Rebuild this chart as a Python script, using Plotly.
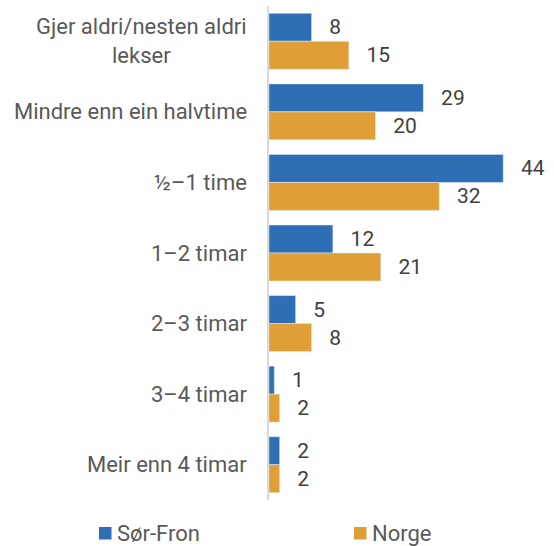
import plotly.graph_objects as go

categories = [
    "Gjer aldri/nesten aldri<br>lekser",
    "Mindre enn ein halvtime",
    "½–1 time",
    "1–2 timar",
    "2–3 timar",
    "3–4 timar",
    "Meir enn 4 timar",
]
sor_fron = [8, 29, 44, 12, 5, 1, 2]
norge = [15, 20, 32, 21, 8, 2, 2]
series_names = ["Sør-Fron", "Norge"]

BLUE = "#2E6EB5"
ORANGE = "#E09E37"
FONT = "Roboto"
PAD = "\u00a0\u00a0\u2009"

fig = go.Figure()
for name, vals, col in [(series_names[0], sor_fron, BLUE), (series_names[1], norge, ORANGE)]:
    fig.add_trace(go.Bar(
        name=name, y=categories, x=vals, orientation="h",
        marker=dict(color=col),
        text=[PAD + str(v) for v in vals], textposition="outside",
        textfont=dict(family=FONT, size=21, color="#404040"),
        constraintext="none", cliponaxis=False, showlegend=False,
    ))

# category labels, centred per line and right-aligned against the axis
for c in categories:
    fig.add_annotation(
        text=c, x=0, xref="paper", y=c, yref="y",
        xanchor="right", yanchor="middle", align="center",
        xshift=-20, showarrow=False,
        font=dict(family=FONT, size=22, color="#595959"),
    )

# legend row below the plot: coloured square + series name (pixel offsets from the axis)
legend_items = [(series_names[0], BLUE, -170), (series_names[1], ORANGE, 85)]
for name, col, px in legend_items:
    fig.add_shape(
        type="rect", xref="paper", yref="paper",
        xsizemode="pixel", ysizemode="pixel", xanchor=0, yanchor=0,
        x0=px, x1=px + 12.5, y0=-39.5, y1=-27,
        fillcolor=col, line=dict(width=0),
    )
    fig.add_annotation(
        text=name, x=0, xref="paper", y=0, yref="paper",
        xanchor="left", yanchor="middle", xshift=px + 16, yshift=-33,
        showarrow=False,
        font=dict(family=FONT, size=22, color="#595959"),
    )

fig.update_layout(
    width=554, height=546,
    margin=dict(l=269, r=5, t=6, b=46),
    paper_bgcolor="white", plot_bgcolor="white",
    barmode="group", bargap=0.207, bargroupgap=0,
    showlegend=False,
    xaxis=dict(range=[0, 52.6], visible=False, fixedrange=True),
    yaxis=dict(
        autorange="reversed", showticklabels=False, ticks="",
        showline=True, linecolor="#D9D9D9", linewidth=2,
        showgrid=False, zeroline=False, fixedrange=True,
    ),
)

fig.write_html("out.html", config={"displayModeBar": False})
